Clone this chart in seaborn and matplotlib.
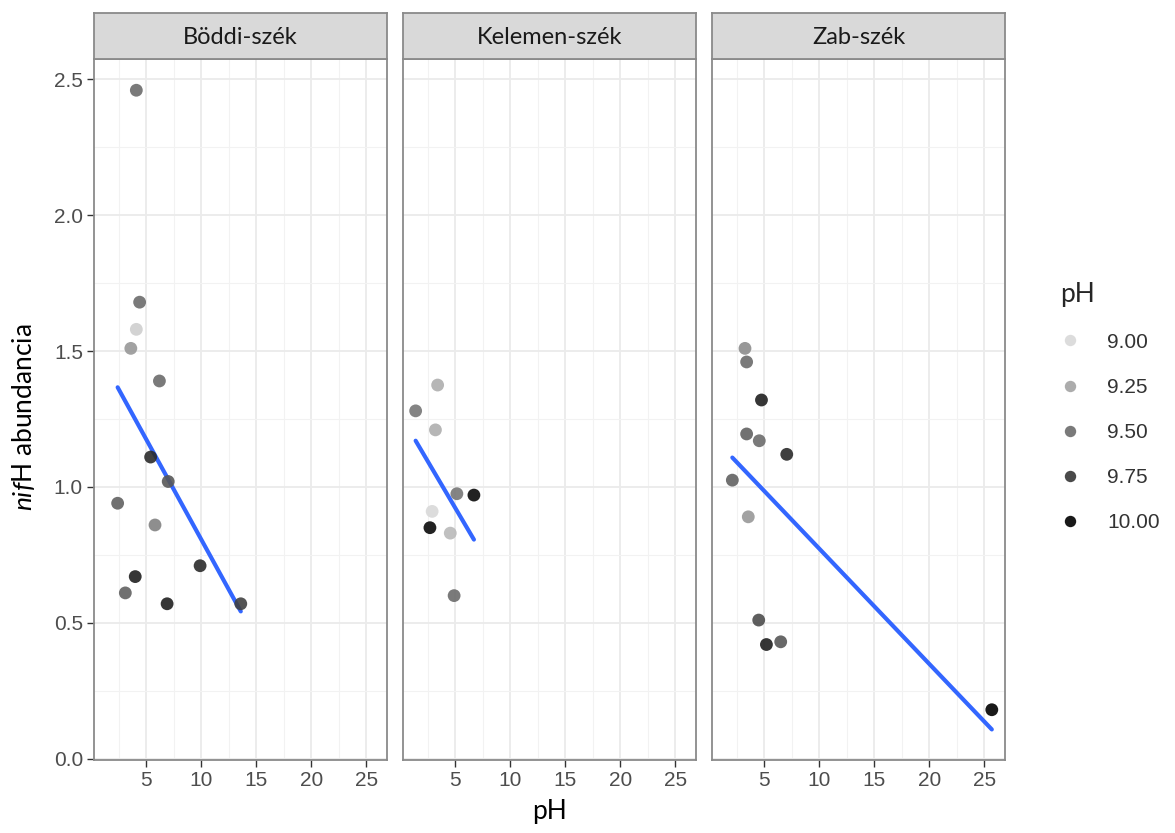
import numpy as np
import pandas as pd
import matplotlib
matplotlib.use("Agg")
import matplotlib.pyplot as plt
from matplotlib.colors import LinearSegmentedColormap
from matplotlib.lines import Line2D
from matplotlib.font_manager import FontProperties
import seaborn as sns

# ---- data ----
sites = ["Böddi-szék", "Kelemen-szék", "Zab-szék"]

bod_x = [4.1, 4.4, 4.1, 3.6, 6.2, 5.4, 7.0, 2.4, 5.8, 9.9, 4.0, 3.1, 6.9, 13.6]
bod_y = [2.46, 1.68, 1.58, 1.51, 1.39, 1.11, 1.02, 0.94, 0.86, 0.71, 0.67, 0.61, 0.57, 0.57]
bod_ph = [9.5, 9.5, 9.05, 9.3, 9.5, 9.8, 9.6, 9.55, 9.4, 9.8, 9.85, 9.55, 9.85, 9.7]

kel_x = [3.4, 1.4, 3.2, 5.15, 6.7, 2.9, 2.7, 4.55, 4.9]
kel_y = [1.375, 1.28, 1.21, 0.975, 0.97, 0.91, 0.85, 0.83, 0.60]
kel_ph = [9.2, 9.45, 9.2, 9.45, 9.95, 9.0, 9.95, 9.15, 9.5]

zab_x = [3.25, 3.4, 4.75, 3.4, 4.55, 7.05, 2.1, 3.55, 4.5, 5.2, 6.5, 25.7]
zab_y = [1.51, 1.46, 1.32, 1.195, 1.17, 1.12, 1.025, 0.89, 0.51, 0.42, 0.43, 0.18]
zab_ph = [9.35, 9.5, 9.85, 9.55, 9.5, 9.8, 9.55, 9.3, 9.65, 9.85, 9.6, 10.0]

legend_vals = [9.00, 9.25, 9.50, 9.75, 10.00]
x_ticks = [5, 10, 15, 20, 25]
y_ticks = [0.0, 0.5, 1.0, 1.5, 2.0, 2.5]

frames = []
for s, xs, ys, ps in zip(sites, [bod_x, kel_x, zab_x], [bod_y, kel_y, zab_y], [bod_ph, kel_ph, zab_ph]):
    frames.append(pd.DataFrame({"site": s, "x": xs, "nifH": ys, "pH": ps}))
df = pd.concat(frames, ignore_index=True)

# ---- styling ----
sns.set_style("white")
plt.rcParams["font.family"] = ["Lato", "DejaVu Sans"]
plt.rcParams["mathtext.fontset"] = "custom"
plt.rcParams["mathtext.it"] = "Lato:italic"
plt.rcParams["mathtext.rm"] = "Lato"

cmap = LinearSegmentedColormap.from_list("greys_ph", ["#D9D9D9", "#000000"])
norm = matplotlib.colors.Normalize(9, 10)

fig = plt.figure(figsize=(11.75, 8.33), dpi=100)
W, H = 1175, 833
lefts = [94, 403, 712]
pw = 293
ptop, pbot = 59, 760
stop = 13

border = "#8A8A8A"
tick_fp = FontProperties(family="Liberation Sans", size=15)

for i, s in enumerate(sites):
    ax = fig.add_axes([lefts[i] / W, 1 - pbot / H, pw / W, (pbot - ptop) / H])
    sub = df[df.site == s]
    sns.regplot(data=sub, x="x", y="nifH", scatter=False, ci=None, ax=ax,
                line_kws=dict(color="#3366FF", lw=3.0, zorder=2))
    sns.scatterplot(data=sub, x="x", y="nifH", hue="pH", palette=cmap, hue_norm=(9, 10),
                    s=85, edgecolor="none", alpha=0.9, legend=False, ax=ax, zorder=3)
    ax.set_xlim(0.25, 26.9)
    ax.set_ylim(-0.005, 2.575)
    ax.set_xticks(x_ticks)
    ax.set_yticks(y_ticks)
    ax.set_xticks([2.5, 7.5, 12.5, 17.5, 22.5], minor=True)
    ax.set_yticks([0.25, 0.75, 1.25, 1.75, 2.25], minor=True)
    ax.grid(True, which="major", color="#EBEBEB", lw=1.3, zorder=0)
    ax.grid(True, which="minor", color="#F2F2F2", lw=0.8, zorder=0)
    ax.set_axisbelow(True)
    for sp in ax.spines.values():
        sp.set_color(border)
        sp.set_linewidth(1.3)
    ax.tick_params(which="major", length=5, width=1.0, color="#333333", bottom=True,
                   left=(i == 0), pad=3)
    ax.tick_params(which="minor", length=0)
    ax.set_xticklabels([str(t) for t in x_ticks])
    if i == 0:
        ax.set_yticklabels([f"{t:.1f}" for t in y_ticks])
    else:
        ax.set_yticklabels([])
    for lab in ax.get_xticklabels() + ax.get_yticklabels():
        lab.set_fontproperties(tick_fp)
        lab.set_color("#4D4D4D")
    ax.set_xlabel("")
    ax.set_ylabel("")

    # strip
    sax = fig.add_axes([lefts[i] / W, 1 - ptop / H, pw / W, (ptop - stop) / H])
    sax.set_facecolor("#D9D9D9")
    sax.set_xticks([])
    sax.set_yticks([])
    for sp in sax.spines.values():
        sp.set_color(border)
        sp.set_linewidth(1.3)
    sax.text(0.5, 0.47, s, ha="center", va="center", fontsize=17, color="#1A1A1A",
             transform=sax.transAxes)

fig.text((94 + 1005) / 2 / W, 1 - 812 / H, "pH", ha="center", va="center", fontsize=19, color="black")
fig.text(24 / W, 1 - 417 / H, r"$\mathit{nif}$H abundancia", ha="center", va="center",
         rotation=90, fontsize=19, color="black")

handles = [Line2D([0], [0], marker="o", linestyle="none", markersize=8.2,
                  markerfacecolor=cmap(norm(v)), markeredgecolor="none", alpha=0.9)
           for v in legend_vals]
leg = fig.legend(handles, [f"{v:.2f}" for v in legend_vals], title="pH",
                 loc="upper left", bbox_to_anchor=(1041 / W, 1 - 263 / H),
                 frameon=False, labelspacing=1.25, handlelength=1.0, handletextpad=1.28,
                 prop=FontProperties(family="Liberation Sans", size=15),
                 title_fontproperties=FontProperties(family="Lato", size=19))
leg._legend_box.align = "left"
for t in leg.get_texts():
    t.set_color("#333333")

fig.savefig("out.png", dpi=100)
